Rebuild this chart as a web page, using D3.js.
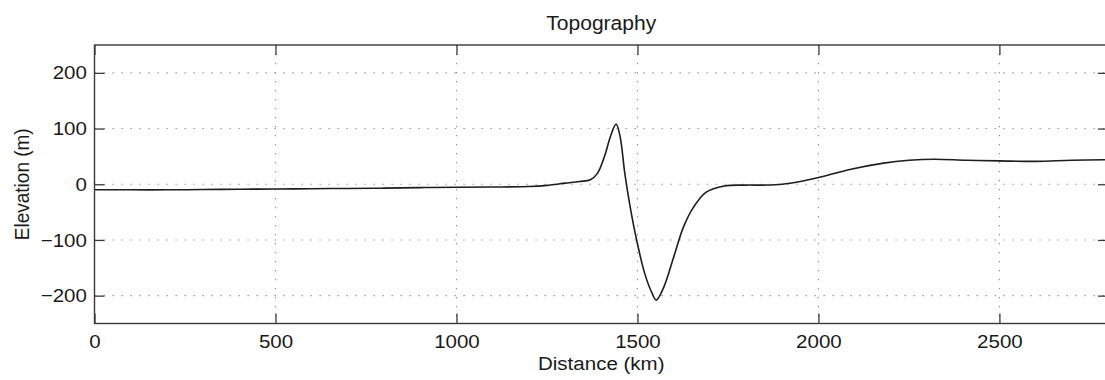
<!DOCTYPE html>
<html>
<head>
<meta charset="utf-8">
<script src="https://cdn.jsdelivr.net/npm/d3@7"></script>
<style>
  html, body { margin: 0; padding: 0; background: #fff; }
  svg { display: block; font-family: "Liberation Sans", Arial, Helvetica, sans-serif; }
</style>
</head>
<body>
<svg id="chart" width="1105" height="380"></svg>
<script>
// Topographic profile along the section line
const distanceKm = [0, 100, 200, 300, 400, 500, 600, 700, 800, 900, 1000, 1100, 1200, 1250, 1300,
  1340, 1370, 1390, 1410, 1425, 1441, 1452, 1465, 1480, 1498, 1520, 1540, 1552, 1572, 1600,
  1627, 1655, 1690, 1740, 1800, 1850, 1900, 1950, 2000, 2090, 2180, 2250, 2320, 2410, 2500, 2600,
  2700, 2800];
const elevationM = [-10, -10, -10, -9.5, -9, -8.5, -8, -7.5, -7, -6, -5.5, -5, -4, -2, 2,
  5, 8, 20, 52, 85, 108, 86, 20, -41, -101, -160, -195, -208, -186, -131,
  -77, -41, -14, -3, -1.5, -1.5, 0, 5, 12, 27, 38, 43, 45, 43, 42, 41,
  43, 44];

const xTicks = [0, 500, 1000, 1500, 2000, 2500];
const yTicks = [-200, -100, 0, 100, 200];
const xDomain = [0, 2800];
const yDomain = [-250, 250];

const titleText = "Topography";
const xLabelText = "Distance (km)";
const yLabelText = "Elevation (m)";

const plot = { left: 94.5, right: 1108, top: 45, bottom: 323.5 };
const SX = 1.08;        // horizontal widening of the glyphs
const FONT = 19;
const TICK = 10;

const svg = d3.select("#chart");
const x = d3.scaleLinear().domain(xDomain).range([plot.left, plot.right]);
const y = d3.scaleLinear().domain(yDomain).range([plot.bottom, plot.top]);

// dotted grid
const grid = svg.append("g").attr("stroke", "#8a8a8a").attr("stroke-width", 1.1)
  .attr("stroke-dasharray", "1.3,7.7");
grid.selectAll("line.gx").data(xTicks.filter(d => d > xDomain[0])).join("line")
  .attr("x1", d => x(d)).attr("x2", d => x(d))
  .attr("y1", plot.top).attr("y2", plot.bottom);
grid.selectAll("line.gy").data(yTicks).join("line")
  .attr("x1", plot.left).attr("x2", plot.right)
  .attr("y1", d => y(d)).attr("y2", d => y(d));

// profile line
const line = d3.line()
  .x((d, i) => x(distanceKm[i]))
  .y(d => y(d))
  .curve(d3.curveCatmullRom.alpha(0.5));
svg.append("path")
  .datum(elevationM)
  .attr("d", line)
  .attr("fill", "none")
  .attr("stroke", "#1e1e1e")
  .attr("stroke-width", 1.6);

// axes with inward ticks on all four sides
const axisColor = "#3a3a3a";
const fmt = d => d < 0 ? "\u2212" + Math.abs(d) : String(d);
function styleAxis(g) {
  g.select(".domain").remove();
  g.selectAll(".tick line").attr("stroke", axisColor).attr("stroke-width", 1.3);
  g.selectAll(".tick text").attr("fill", "#1a1a1a").attr("font-size", FONT)
    .attr("font-family", "Liberation Sans, Arial, sans-serif");
}

svg.append("g").attr("transform", `translate(0,${plot.bottom})`)
  .call(d3.axisBottom(x).tickValues(xTicks).tickSizeInner(-TICK).tickSizeOuter(0).tickPadding(11.5)
    .tickFormat(fmt))
  .call(styleAxis)
  .call(g => g.selectAll(".tick text").attr("transform", `scale(${SX},1)`));

svg.append("g").attr("transform", `translate(0,${plot.top})`)
  .call(d3.axisTop(x).tickValues(xTicks).tickSizeInner(-TICK).tickSizeOuter(0).tickFormat(""))
  .call(styleAxis);

svg.append("g").attr("transform", `translate(${plot.left},0)`)
  .call(d3.axisLeft(y).tickValues(yTicks).tickSizeInner(-TICK).tickSizeOuter(0).tickPadding(7)
    .tickFormat(fmt))
  .call(styleAxis)
  .call(g => g.selectAll(".tick text").attr("transform", `scale(${SX},1)`));

svg.append("g").attr("transform", `translate(${plot.right},0)`)
  .call(d3.axisRight(y).tickValues(yTicks).tickSizeInner(-TICK).tickSizeOuter(0).tickFormat(""))
  .call(styleAxis);

// box
svg.append("rect")
  .attr("x", plot.left).attr("y", plot.top)
  .attr("width", plot.right - plot.left).attr("height", plot.bottom - plot.top)
  .attr("fill", "none").attr("stroke", axisColor).attr("stroke-width", 1.4);

// title and labels
const cx = (plot.left + plot.right) / 2;
svg.append("text")
  .attr("transform", `translate(${cx},29.5) scale(${SX},1)`)
  .attr("text-anchor", "middle").attr("font-size", FONT + 0.5).attr("fill", "#1a1a1a")
  .text(titleText);

svg.append("text")
  .attr("transform", `translate(${cx},370) scale(${SX},1)`)
  .attr("text-anchor", "middle").attr("font-size", FONT).attr("fill", "#1a1a1a")
  .text(xLabelText);

svg.append("text")
  .attr("transform", `translate(29,${(plot.top + plot.bottom) / 2}) rotate(-90) scale(1,${SX})`)
  .attr("text-anchor", "middle").attr("font-size", FONT).attr("fill", "#1a1a1a")
  .text(yLabelText);
</script>
</body>
</html>
